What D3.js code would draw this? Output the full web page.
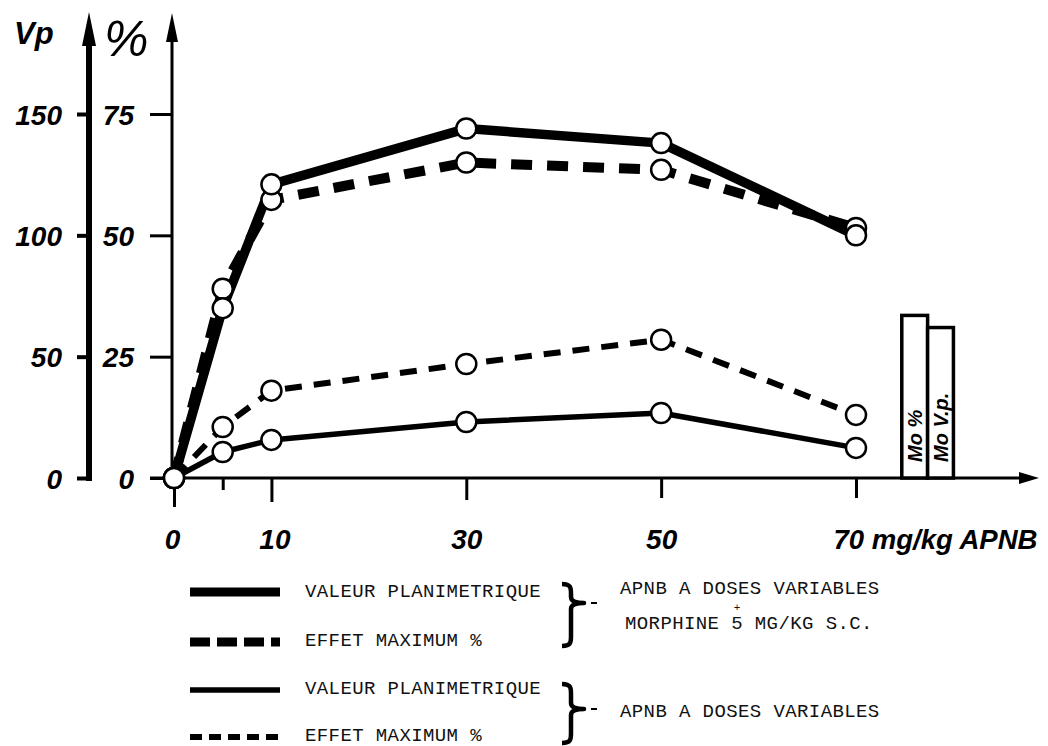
<!DOCTYPE html>
<html>
<head>
<meta charset="utf-8">
<script src="https://cdn.jsdelivr.net/npm/d3@7/dist/d3.min.js"></script>
<style>
  html, body { margin: 0; padding: 0; background: #fff; }
  svg { display: block; }
  .hand { font-family: "Liberation Sans", "Arimo", "DejaVu Sans", sans-serif; font-style: italic; font-weight: bold; fill: #000; }
  .type { font-family: "Liberation Mono", "DejaVu Sans Mono", monospace; fill: #111; }
</style>
</head>
<body>
<svg id="chart" width="1048" height="746"></svg>
<script>
// ---------------- data ----------------
const doses = [0, 5, 10, 30, 50, 70];               // mg/kg APNB
const xTickValues = [0, 5, 10, 30, 50, 70];
const xTickLabels = ["0", "", "10", "30", "50", "70 mg/kg APNB"];
const vpTicks = [0, 50, 100, 150];
const pctTicks = [0, 25, 50, 75];

// APNB + morphine 5 mg/kg s.c.
const thickSolidVp   = [0, 70, 121, 144, 138, 100];     // valeur planimetrique (Vp)
const thickDashedPct = [0, 39, 57.3, 65, 63.5, 51.5];   // effet maximum (%)
// APNB alone
const thinSolidVp    = [0, 10.7, 15.7, 23.1, 26.8, 12.4];
const thinDashedPct  = [0, 10.5, 18, 23.5, 28.5, 13];

// morphine alone bars
const barLabels = ["Mo %", "Mo V.p."];
const barAxis   = ["pct", "vp"];
const barValues = [33.5, 62];

const legendLabels = ["VALEUR PLANIMETRIQUE", "EFFET MAXIMUM %", "VALEUR PLANIMETRIQUE", "EFFET MAXIMUM %"];
const groupLabels = [["APNB A DOSES VARIABLES", "MORPHINE 5 MG/KG S.C."], ["APNB A DOSES VARIABLES"]];

// ---------------- scales ----------------
const svg = d3.select("#chart");
const x = d3.scaleLinear().domain([0, 70]).range([174, 856]);
const yPct = d3.scaleLinear().domain([0, 75]).range([478, 114]);
const yVp = d3.scaleLinear().domain([0, 150]).range([478, 114]);
const xBar = d3.scaleBand().domain(barLabels).range([x(74.7), x(80)]).padding(0);

// ---------------- axes ----------------
// Vp axis (thick)
const gVp = svg.append("g").attr("transform", "translate(89,0)")
  .call(d3.axisLeft(yVp).tickValues(vpTicks).tickSize(12).tickPadding(15));
gVp.select(".domain").remove();
gVp.selectAll(".tick line").attr("stroke", "#000").attr("stroke-width", 4);
gVp.selectAll(".tick text").attr("class", "hand").style("font-size", "28px").attr("dy", "0.36em");
svg.append("line").attr("x1", 89).attr("x2", 89).attr("y1", yVp(0) + 3).attr("y2", 40)
  .attr("stroke", "#000").attr("stroke-width", 6);
svg.append("path").attr("d", "M89,12 L82,46 L96,46 Z").attr("fill", "#000");

// % axis (thin)
const gPct = svg.append("g").attr("transform", "translate(172,0)")
  .call(d3.axisLeft(yPct).tickValues(pctTicks).tickSize(22).tickPadding(16));
gPct.select(".domain").remove();
gPct.selectAll(".tick line").attr("stroke", "#000").attr("stroke-width", 3);
gPct.selectAll(".tick text").attr("class", "hand").style("font-size", "28px").attr("dy", "0.36em");
svg.append("line").attr("x1", 172).attr("x2", 172).attr("y1", yPct(0)).attr("y2", 38)
  .attr("stroke", "#000").attr("stroke-width", 3);
svg.append("path").attr("d", "M172,13 L166,42 L178,42 Z").attr("fill", "#000");

// x axis
const tickLen = [29, 12, 24, 22, 20, 20];
const gX = svg.append("g").attr("transform", `translate(0,${yPct(0)})`)
  .call(d3.axisBottom(x).tickValues(xTickValues).tickSize(22).tickFormat((d, i) => xTickLabels[i]));
gX.select(".domain").remove();
gX.selectAll(".tick line").attr("stroke", "#000").attr("stroke-width", 3).attr("y2", (d, i) => tickLen[i]);
const last = xTickValues.length - 1;
gX.selectAll(".tick text").attr("class", "hand").style("font-size", "28px")
  .attr("y", 71).attr("dy", 0)
  .attr("text-anchor", (d, i) => i === last ? "start" : "middle")
  .attr("dx", (d, i) => i === last ? -23 : (i === 2 ? 3 : (i === 0 ? -2 : 0)))
  .each(function (d, i) {
    if (i === last) d3.select(this).attr("textLength", 204).attr("lengthAdjust", "spacingAndGlyphs");
  });
svg.append("line").attr("x1", 150).attr("x2", 1022).attr("y1", yPct(0)).attr("y2", yPct(0))
  .attr("stroke", "#000").attr("stroke-width", 3);
svg.append("path").attr("d", `M1039,${yPct(0)} L1019,${yPct(0) - 6} L1019,${yPct(0) + 6} Z`).attr("fill", "#000");

// axis titles
svg.append("text").attr("class", "hand").attr("x", 14).attr("y", 44).style("font-size", "31px").text("Vp");
svg.append("text").attr("class", "hand").attr("x", 104).attr("y", 56).style("font-size", "50px").style("font-weight", "normal").text("%");

// ---------------- bars ----------------
const gBars = svg.append("g");
barLabels.forEach((lab, i) => {
  const sc = barAxis[i] === "pct" ? yPct : yVp;
  const bx = xBar(lab), bw = xBar.bandwidth();
  gBars.append("rect").attr("x", bx).attr("y", sc(barValues[i]))
    .attr("width", bw).attr("height", sc(0) - sc(barValues[i]))
    .attr("fill", "#fff").attr("stroke", "#000").attr("stroke-width", 3.5);
  gBars.append("text").attr("class", "hand").style("font-size", "20px")
    .attr("transform", `translate(${bx + bw / 2 + 7},${yPct(0) - 16}) rotate(-90)`)
    .text(lab);
});

// ---------------- lines ----------------
const series = [
  { vals: thickDashedPct, sc: yPct, w: 10, dash: "21 15" },
  { vals: thickSolidVp, sc: yVp, w: 9.5, dash: null },
  { vals: thinDashedPct, sc: yPct, w: 6, dash: "17 12" },
  { vals: thinSolidVp, sc: yVp, w: 5.5, dash: null }
];
series.forEach(s => {
  const line = d3.line().x((d, i) => x(doses[i])).y(d => s.sc(d));
  svg.append("path").datum(s.vals).attr("d", line)
    .attr("fill", "none").attr("stroke", "#000").attr("stroke-width", s.w)
    .attr("stroke-linejoin", "round")
    .attr("stroke-dasharray", s.dash);
});
series.forEach(s => {
  svg.append("g").selectAll("circle").data(s.vals).join("circle")
    .attr("cx", (d, i) => x(doses[i])).attr("cy", d => s.sc(d)).attr("r", 10)
    .attr("fill", "#fff").attr("stroke", "#000").attr("stroke-width", 2.5);
});

// ---------------- legend ----------------
const legY = [592, 642, 690, 737];
const legStyle = [
  { w: 9, dash: null }, { w: 9, dash: "20 7" }, { w: 5.5, dash: null }, { w: 6, dash: "12 7" }
];
legendLabels.forEach((lab, i) => {
  svg.append("line").attr("x1", 190).attr("x2", 280).attr("y1", legY[i]).attr("y2", legY[i])
    .attr("stroke", "#000").attr("stroke-width", legStyle[i].w).attr("stroke-dasharray", legStyle[i].dash);
  svg.append("text").attr("class", "type").attr("x", 305).attr("y", [597, 646, 694, 741][i])
    .style("font-size", "19px").style("letter-spacing", "0.4px").text(lab);
});

function brace(x0, top, tip, bottom) {
  const m = x0 + 9, t = x0 + 22;
  return `M${x0},${top} C${m},${top} ${m},${top + 4} ${m},${top + 10} L${m},${tip - 6} ` +
    `C${m},${tip - 2} ${m + 5},${tip} ${t},${tip} C${m + 5},${tip} ${m},${tip + 2} ${m},${tip + 6} ` +
    `L${m},${bottom - 10} C${m},${bottom - 4} ${m},${bottom} ${x0},${bottom}`;
}
[[584, 603, 646], [684, 709, 743]].forEach((b, i) => {
  svg.append("path").attr("d", brace(562, b[0], b[1], b[2]))
    .attr("fill", "none").attr("stroke", "#000").attr("stroke-width", 4.5).attr("stroke-linejoin", "round");
  svg.append("line").attr("x1", 591).attr("x2", 597).attr("y1", b[1]).attr("y2", b[1])
    .attr("stroke", "#000").attr("stroke-width", 2);
});
const morphText = svg.append("text").attr("class", "type").attr("x", 625).attr("y", 629)
  .style("font-size", "19px").style("letter-spacing", "0.4px").text(groupLabels[0][1]);
svg.append("text").attr("class", "type").attr("x", 620).attr("y", 594).style("font-size", "19px").style("letter-spacing", "0.4px").text(groupLabels[0][0]);
// "+" above the "5"
const charW = morphText.node().getComputedTextLength() / groupLabels[0][1].length;
svg.append("text").attr("class", "type").attr("x", 625 + 9.5 * charW).attr("y", 611)
  .attr("text-anchor", "middle").style("font-size", "11px").text("+");
svg.append("text").attr("class", "type").attr("x", 620).attr("y", 717).style("font-size", "19px").style("letter-spacing", "0.4px").text(groupLabels[1][0]);
</script>
</body>
</html>
